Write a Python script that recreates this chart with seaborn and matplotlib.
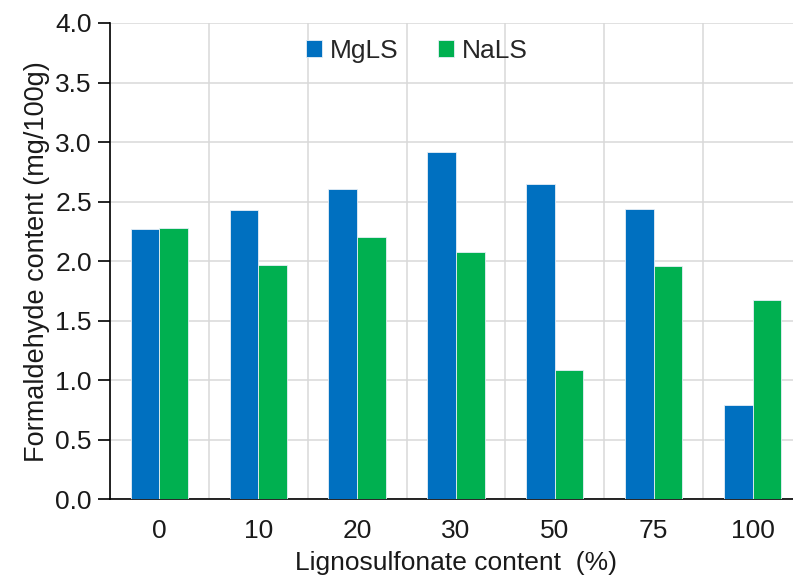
import pandas as pd
import matplotlib
matplotlib.use("Agg")
import matplotlib.pyplot as plt
import seaborn as sns

# values
CONTENT = ["0", "10", "20", "30", "50", "75", "100"]
MGLS = [2.27, 2.43, 2.61, 2.92, 2.65, 2.44, 0.79]
NALS = [2.28, 1.97, 2.20, 2.08, 1.09, 1.96, 1.67]
SERIES = ["MgLS", "NaLS"]
COLORS = {"MgLS": "#0070C0", "NaLS": "#00B050"}

df = pd.DataFrame({
    "content": CONTENT * 2,
    "value": MGLS + NALS,
    "series": ["MgLS"] * len(CONTENT) + ["NaLS"] * len(CONTENT),
})

sns.set_theme(style="white")
plt.rcParams["font.family"] = ["Liberation Sans", "DejaVu Sans"]
FS = 19

fig = plt.figure(figsize=(7.93, 5.85), dpi=100)
ax = fig.add_axes([0.1387, 0.1465, 0.8726, 0.8142])

sns.barplot(data=df, x="content", y="value", hue="series", order=CONTENT,
            hue_order=SERIES, palette=COLORS, saturation=1, width=0.58, gap=0,
            edgecolor="#e6eef6", linewidth=0.6, ax=ax, zorder=3)

ax.set_xlim(-0.5, len(CONTENT) - 0.5)
ax.set_ylim(0, 4.0)
ax.set_yticks([0.0, 0.5, 1.0, 1.5, 2.0, 2.5, 3.0, 3.5, 4.0])
ax.set_yticklabels([f"{v:.1f}" for v in ax.get_yticks()])

# boundaries between categories carry the x tick marks and vertical grid
ax.set_xticks([i - 0.5 for i in range(len(CONTENT) + 1)], minor=True)
ax.tick_params(axis="x", which="major", length=0, labelsize=FS, pad=14, colors="#1a1a1a")
ax.tick_params(axis="x", which="minor", length=9, width=1.2, color="black", direction="out")
ax.tick_params(axis="y", which="major", length=9, width=1.2, color="black",
               direction="out", labelsize=FS, labelcolor="#1a1a1a", left=True, pad=4)
ax.grid(axis="x", which="minor", color="#d9d9d9", linewidth=1.1, zorder=0)
ax.grid(axis="y", which="major", color="#d9d9d9", linewidth=1.1, zorder=0)
ax.set_axisbelow(True)

for side in ["top", "right"]:
    ax.spines[side].set_visible(False)
for side in ["left", "bottom"]:
    ax.spines[side].set_color("black")
    ax.spines[side].set_linewidth(1.2)

ax.set_xlabel("Lignosulfonate content  (%)", fontsize=FS, color="#1a1a1a", labelpad=6)
ax.set_ylabel("Formaldehyde content (mg/100g)", fontsize=FS + 0.5, color="#1a1a1a", labelpad=4)

ax.legend(title=None, loc="center", bbox_to_anchor=(0.444, 0.941), ncol=2,
          frameon=False, fontsize=FS, handlelength=0.6, handleheight=0.6,
          handletextpad=0.3, columnspacing=1.5)

fig.savefig("out.png", dpi=100)
